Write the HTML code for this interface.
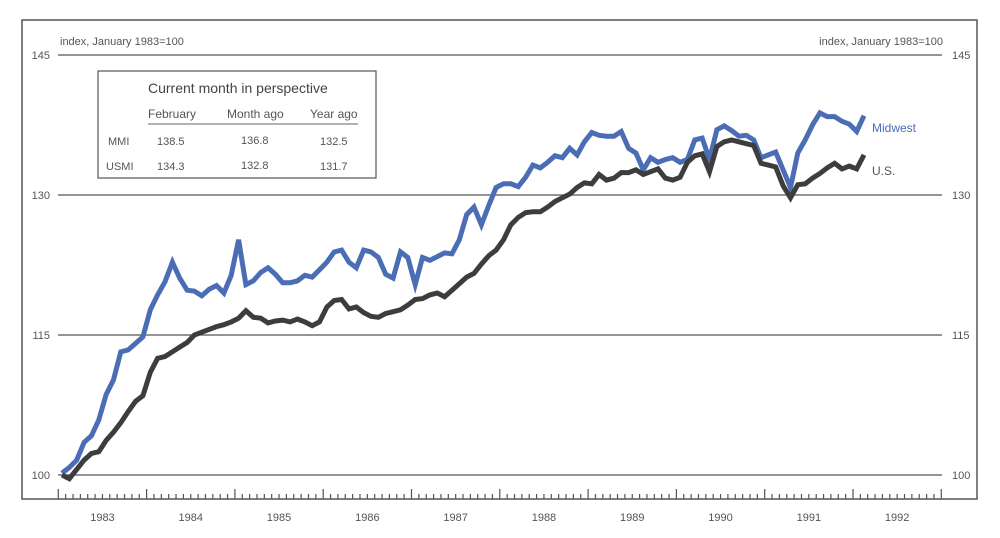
<!DOCTYPE html>
<html><head><meta charset="utf-8"><style>
body{margin:0;background:#fff;}
svg{display:block;font-family:"Liberation Sans",sans-serif;}
</style></head><body>
<svg id="chart" width="1000" height="538" viewBox="0 0 1000 538">
<rect x="22" y="20" width="955" height="479" fill="none" stroke="#555" stroke-width="1.5"/>
<g id="grid"></g>
<g id="axis"></g>
<text x="60" y="45" font-size="11" fill="#555">index, January 1983=100</text>
<text x="943" y="45" font-size="11" fill="#555" text-anchor="end">index, January 1983=100</text>
<g id="series"></g>
<text x="872" y="132" font-size="12" fill="#4a6db5">Midwest</text>
<text x="872" y="175" font-size="12" fill="#555">U.S.</text>
<g>
<rect x="98" y="71" width="278" height="107" fill="#fff" stroke="#555" stroke-width="1.2"/>
<text x="148" y="93" font-size="14" fill="#444">Current month in perspective</text>
<text x="148" y="118" font-size="12" fill="#555">February</text>
<text x="227" y="118" font-size="12" fill="#555">Month ago</text>
<text x="310" y="118" font-size="12" fill="#555">Year ago</text>
<line x1="148" y1="124" x2="358" y2="124" stroke="#666" stroke-width="1"/>
<text x="108" y="145" font-size="11" fill="#555">MMI</text>
<text x="157" y="145" font-size="11" fill="#555">138.5</text>
<text x="241" y="144" font-size="11" fill="#555">136.8</text>
<text x="320" y="145" font-size="11" fill="#555">132.5</text>
<text x="106" y="170" font-size="11" fill="#555">USMI</text>
<text x="157" y="170" font-size="11" fill="#555">134.3</text>
<text x="241" y="169" font-size="11" fill="#555">132.8</text>
<text x="320" y="170" font-size="11" fill="#555">131.7</text>
</g>
</svg>
<script>
const yTicks=[100,115,130,145];
const years=["1983","1984","1985","1986","1987","1988","1989","1990","1991","1992"];
const midwest=[100.2,100.8,101.6,103.5,104.2,105.9,108.6,110.2,113.2,113.4,114.1,114.8,
117.7,119.3,120.7,122.8,121.1,119.8,119.7,119.2,119.9,120.3,119.5,121.4,
125.2,120.4,120.8,121.7,122.2,121.5,120.6,120.6,120.8,121.4,121.2,122.0,
122.8,123.9,124.1,122.8,122.2,124.1,123.9,123.3,121.5,121.1,123.9,123.3,
120.4,123.3,123.0,123.4,123.8,123.7,125.2,127.9,128.7,126.8,128.9,130.8,
131.2,131.2,130.9,131.9,133.2,132.9,133.5,134.2,134.0,135.0,134.3,135.7,
136.7,136.4,136.3,136.3,136.8,135.0,134.5,132.7,134.0,133.5,133.8,134.0,
133.5,133.8,135.9,136.1,133.8,137.0,137.4,136.9,136.3,136.4,135.9,134.0,
134.3,134.6,132.7,130.8,134.5,135.9,137.5,138.8,138.4,138.4,137.9,137.6,136.8,138.5];
const us=[100.0,99.6,100.6,101.6,102.3,102.5,103.7,104.6,105.6,106.8,107.9,108.5,
111.0,112.5,112.7,113.2,113.7,114.2,115.0,115.3,115.6,115.9,116.1,116.4,
116.8,117.6,116.9,116.8,116.3,116.5,116.6,116.4,116.7,116.4,116.0,116.4,
118.0,118.7,118.8,117.8,118.0,117.4,117.0,116.9,117.3,117.5,117.7,118.2,
118.8,118.9,119.3,119.5,119.1,119.8,120.5,121.2,121.6,122.6,123.5,124.1,
125.2,126.8,127.6,128.1,128.2,128.2,128.7,129.3,129.7,130.1,130.8,131.3,
131.2,132.2,131.6,131.8,132.4,132.4,132.7,132.2,132.5,132.8,131.8,131.6,
131.9,133.5,134.2,134.4,132.5,135.2,135.7,135.9,135.7,135.5,135.3,133.4,
133.2,133.0,131.0,129.7,131.1,131.2,131.8,132.3,132.9,133.4,132.8,133.1,132.8,134.3];
const NS="http://www.w3.org/2000/svg";
const X0=58.3,YW=88.3;
function xM(i){return X0+YW*(i+0.5)/12;}
function yV(v){return 475-(v-100)*140/45*3;}
function mk(t,a,p){const e=document.createElementNS(NS,t);for(const k in a)e.setAttribute(k,a[k]);p.appendChild(e);return e;}
const grid=document.getElementById('grid');
yTicks.forEach(v=>{
 const y=yV(v);
 const l=mk('line',{x1:58,x2:942,y1:y,y2:y,stroke:'#555','stroke-width':1.2},grid);
 
 
 const a=mk('text',{x:50,y:y+4,'font-size':11,fill:'#555','text-anchor':'end'},grid);
 a.textContent=v;
 
 
 const b=mk('text',{x:952,y:y+4,'font-size':11,fill:'#555'},grid);
 b.textContent=v;
 
 
});
const axis=document.getElementById('axis');
for(let m=0;m<=years.length*12;m++){
 const x=X0+YW*m/12;const major=m%12===0;
 const t=mk('line',{x1:x,x2:x,y1:major?489:494,y2:499,stroke:'#555','stroke-width':1.2},axis);
 
 
}
years.forEach((yr,i)=>{
 const t=mk('text',{x:X0+YW*(i+0.5),y:521,'font-size':11,fill:'#555','text-anchor':'middle'},axis);
 t.textContent=yr;
 
 
});
const ser=document.getElementById('series');
function line(d,c,n){
 const p=mk('polyline',{points:d.map((v,i)=>xM(i).toFixed(1)+','+yV(v).toFixed(1)).join(' '),fill:'none',stroke:c,'stroke-width':5,'stroke-linejoin':'miter'},ser);
 
 
}
line(midwest,'#4a6db5','midwest-line');
line(us,'#3d3d3d','us-line');
</script>
</body></html>
